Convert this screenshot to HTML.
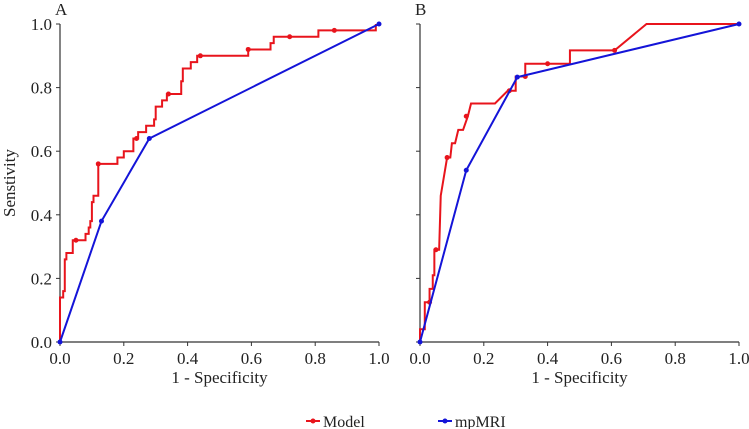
<!DOCTYPE html>
<html><head><meta charset="utf-8"><style>
html,body{margin:0;padding:0;background:#fff;}
svg{display:block;font-family:"Liberation Serif",serif;}
</style></head><body>
<svg id="chart" width="749" height="429" viewBox="0 0 749 429"></svg>
<script>
const xTicks=["0.0","0.2","0.4","0.6","0.8","1.0"];
const yTicks=["0.0","0.2","0.4","0.6","0.8","1.0"];
const modelA_x=[0,0,0.01,0.01,0.015,0.015,0.02,0.02,0.04,0.04,0.08,0.08,0.09,0.09,0.095,0.095,0.1,0.1,0.105,0.105,0.12,0.12,0.18,0.18,0.2,0.2,0.23,0.23,0.245,0.245,0.27,0.27,0.295,0.295,0.30,0.30,0.32,0.32,0.335,0.335,0.38,0.38,0.385,0.385,0.41,0.41,0.43,0.43,0.59,0.59,0.66,0.66,0.67,0.67,0.81,0.81,0.99,0.99];
const modelA_y=[0,0.14,0.14,0.16,0.16,0.26,0.26,0.28,0.28,0.32,0.32,0.34,0.34,0.36,0.36,0.38,0.38,0.44,0.44,0.46,0.46,0.56,0.56,0.58,0.58,0.60,0.60,0.64,0.64,0.66,0.66,0.68,0.68,0.70,0.70,0.74,0.74,0.76,0.76,0.78,0.78,0.82,0.82,0.86,0.86,0.88,0.88,0.90,0.90,0.92,0.92,0.94,0.94,0.96,0.96,0.98,0.98,1.0];
const modelA_mx=[0.05,0.12,0.24,0.34,0.44,0.59,0.72,0.86];
const modelA_my=[0.32,0.56,0.64,0.78,0.90,0.92,0.96,0.98];
const mriA_x=[0,0.13,0.28,1];
const mriA_y=[0,0.38,0.64,1];
const modelB_x=[0,0,0.015,0.015,0.03,0.03,0.04,0.04,0.045,0.045,0.06,0.065,0.085,0.095,0.1,0.11,0.12,0.135,0.15,0.16,0.235,0.275,0.3,0.3,0.33,0.33,0.47,0.47,0.61,0.71,1];
const modelB_y=[0,0.04,0.04,0.125,0.125,0.167,0.167,0.21,0.21,0.29,0.29,0.46,0.58,0.58,0.625,0.625,0.667,0.667,0.71,0.75,0.75,0.79,0.79,0.835,0.835,0.875,0.875,0.917,0.917,1,1];
const modelB_mx=[0.03,0.05,0.085,0.145,0.28,0.33,0.4,0.61];
const modelB_my=[0.125,0.29,0.58,0.71,0.79,0.835,0.875,0.917];
const mriB_x=[0,0.145,0.305,1];
const mriB_y=[0,0.54,0.833,1];

const NS="http://www.w3.org/2000/svg";
const svg=document.getElementById('chart');
function mk(tag,attrs,parent){const e=document.createElementNS(NS,tag);for(const k in attrs)e.setAttribute(k,attrs[k]);(parent||svg).appendChild(e);return e;}
const Y0=342,Y1=24;
function panel(name,x0,x1,label,mx,my,mmx,mmy,bx,by){
  const sx=v=>x0+v*(x1-x0), sy=v=>Y0+v*(Y1-Y0);
  const g=mk('g',{});
  
  
  const ax=mk('path',{d:`M${x0},${Y1}V${Y0}H${x1}`,stroke:'#333',fill:'none','stroke-width':1.2},g);
  
  
  xTicks.forEach((t,i)=>{const v=parseFloat(t);const x=sx(v);
    mk('line',{x1:x,x2:x,y1:Y0,y2:Y0+4,stroke:'#333'},g);
    const tx=mk('text',{x:x,y:Y0+22,'text-anchor':'middle','font-size':17,fill:'#222'},g);tx.textContent=t;
    
    
  });
  yTicks.forEach((t,i)=>{const v=parseFloat(t);const y=sy(v);
    mk('line',{x1:x0-4,x2:x0,y1:y,y2:y,stroke:'#333'},g);
    if(name==='a'){const tx=mk('text',{x:x0-8,y:y+6,'text-anchor':'end','font-size':17,fill:'#222'},g);tx.textContent=t;
    
    }
  });
  const lb=mk('text',{x:x0-5,y:15,'font-size':17,fill:'#222'},g);lb.textContent=label;
  
  
  const xt=mk('text',{x:(x0+x1)/2,y:383,'text-anchor':'middle','font-size':17,fill:'#222'},g);xt.textContent='1 - Specificity';
  
  
  const pm=mk('polyline',{points:mx.map((v,i)=>sx(v)+','+sy(my[i])).join(' '),fill:'none',stroke:'#e8141c','stroke-width':2},g);
  
  
  mmx.forEach((v,i)=>{const c=mk('circle',{cx:sx(v),cy:sy(mmy[i]),r:2.5,fill:'#e8141c'},g);
    
    });
  const pb=mk('polyline',{points:bx.map((v,i)=>sx(v)+','+sy(by[i])).join(' '),fill:'none',stroke:'#1414d8','stroke-width':2},g);
  
  
  bx.forEach((v,i)=>{const c=mk('circle',{cx:sx(v),cy:sy(by[i]),r:2.5,fill:'#1414d8'},g);
    
    });
}
panel('a',60,379,'A',modelA_x,modelA_y,modelA_mx,modelA_my,mriA_x,mriA_y);
panel('b',420,739,'B',modelB_x,modelB_y,modelB_mx,modelB_my,mriB_x,mriB_y);
const yt=mk('text',{x:0,y:0,transform:'translate(15,183) rotate(-90)','text-anchor':'middle','font-size':17,fill:'#222'});
yt.textContent='Senstivity';


const leg=mk('g',{});


[[306,'#e8141c','Model'],[438,'#1414d8','mpMRI']].forEach(([x,c,t])=>{
  const e=mk('g',{},leg);
  
  
  mk('line',{x1:x,x2:x+14,y1:421,y2:421,stroke:c,'stroke-width':2},e);
  mk('circle',{cx:x+7,cy:421,r:2.5,fill:c},e);
  const tx=mk('text',{x:x+17,y:427,'font-size':16,fill:'#222'},e);tx.textContent=t;
});
</script>
</body></html>
